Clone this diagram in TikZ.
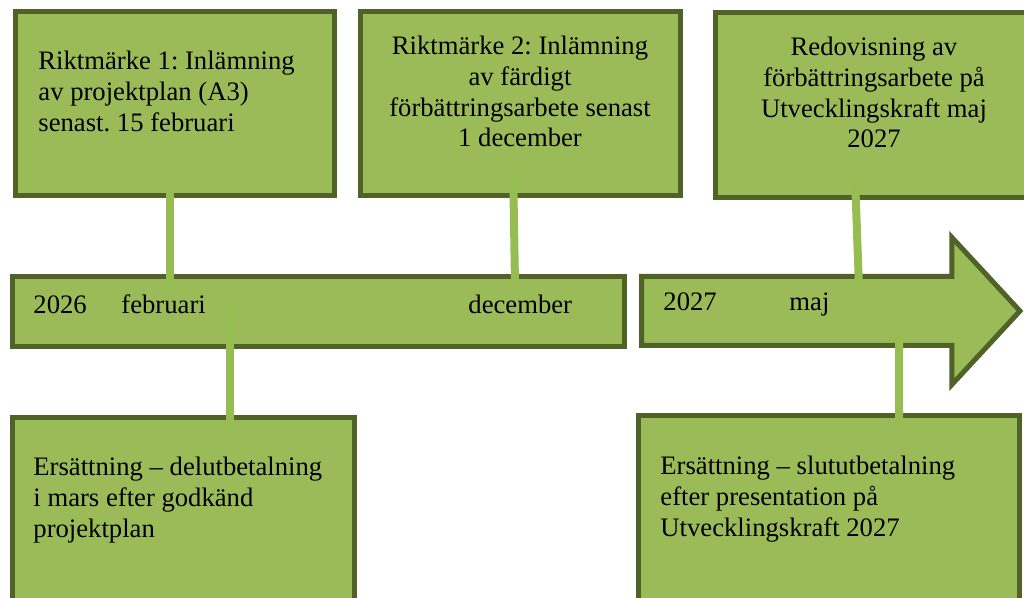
\documentclass[tikz,border=0pt]{standalone}
\usepackage{fontspec}
\setmainfont{Liberation Serif}
\usetikzlibrary{calc}
\frenchspacing

\definecolor{boxgreen}{RGB}{155,187,89}
\definecolor{edgegreen}{RGB}{79,98,40}
\definecolor{linkgreen}{RGB}{150,188,82}

\begin{document}
\begin{tikzpicture}[x=0.45pt, y=-0.45pt,
        box/.style={rectangle, draw=edgegreen, fill=boxgreen, line width=2.25pt, inner sep=0pt, outer sep=0pt},
        txt/.style={inner sep=0pt, font=\fontsize{12pt}{13.8pt}\selectfont},
        link/.style={draw=linkgreen, line width=3.6pt}]
        \useasboundingbox (0,0) rectangle (1024,598);
        \clip (0,0) rectangle (1024,598);

        % milestones on top
        \node [box, minimum width=143.55pt, minimum height=82.8pt] (mark1) at (175,103.5) {};
        \node [box, minimum width=144pt, minimum height=82.8pt] (mark2) at (520.5,103.5) {};
        \node [box, minimum width=143.1pt, minimum height=83.25pt] (report) at (874.5,105) {};

        % the time line
        \node [box, minimum width=275.4pt, minimum height=31.5pt] (bar26) at (318.5,311.5) {};
        \node [inner sep=0pt, outer sep=0pt, minimum width=139.7pt, minimum height=31.05pt] (bar27) at (796.75,311) {};
        \draw [draw=edgegreen, fill=boxgreen, line width=2.25pt] (bar27.north west) -- (bar27.north east) -- ++(0,-39)
            -- ($(bar27.east)+(68,0)$) -- ($(bar27.south east)+(0,39)$) -- (bar27.south east) -- (bar27.south west) -- cycle;

        % payments below
        \node [box, minimum width=153.9pt, minimum height=99.9pt] (pay1) at (183.5,528.5) {};
        \node [box, minimum width=171.45pt, minimum height=101pt] (pay2) at (829,527.75) {};

        \node [txt, anchor=north west, align=left] (mark1txt) at (38,51) {Riktmärke 1: Inlämning\\av projektplan (A3)\\senast. 15 februari};
        \node [txt, anchor=north, align=center] (mark2txt) at (520,36) {Riktmärke 2: Inlämning\\av färdigt\\förbättringsarbete senast\\1 december};
        \node [txt, anchor=north, align=center] (reporttxt) at (874,37) {Redovisning av\\förbättringsarbete på\\Utvecklingskraft maj\\2027};
        \node [txt, anchor=north west, align=left] (pay1txt) at (33,457) {Ersättning – delutbetalning\\i mars efter godkänd\\projektplan};
        \node [txt, anchor=north west, align=left] (pay2txt) at (660,456) {Ersättning – slututbetalning\\efter presentation på\\Utvecklingskraft 2027};

        \node [txt, anchor=base west] (y26) at (33,314) {2026};
        \node [txt, anchor=base west] (feb) at (121,314) {februari};
        \node [txt, anchor=base west] (dec) at (468,314) {december};
        \node [txt, anchor=base west] (y27) at (663,311) {2027};
        \node [txt, anchor=base west] (may) at (789,311) {maj};

        \draw [link] ($(mark1.south)+(-5,-2.5)$) -- ($(bar26.north)+(-148.5,13.5)$);
        \draw [link] ($(mark2.south)+(-7.5,-33.5)$) -- ($(bar26.north)+(196.5,6.5)$);
        \draw [link] ($(report.south)+(-19.5,-20.5)$) -- ($(bar27.north)+(62.25,10.5)$);
        \draw [link] ($(bar26.south)+(-89,-47.5)$) -- ($(pay1.north)+(46,15.5)$);
        \draw [link] ($(bar27.south)+(102.25,-12.5)$) -- ($(pay2.north)+(70,16.5)$);
    \end{tikzpicture}
\end{document}
